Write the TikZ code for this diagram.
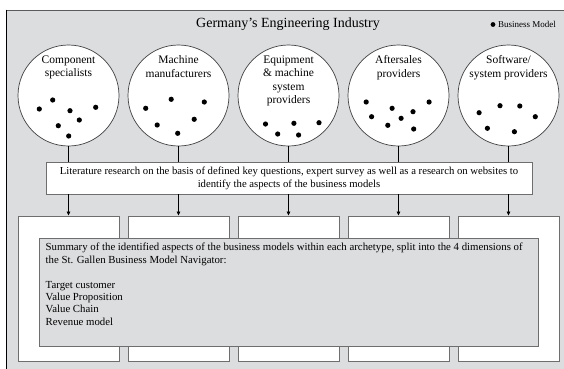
\documentclass[tikz,border=0pt]{standalone}
\usepackage{fontspec}
\setmainfont{Liberation Serif}
\usetikzlibrary{arrows.meta}
\definecolor{bggray}{RGB}{220,221,223}
\definecolor{edgegray}{RGB}{110,110,110}
\definecolor{topgray}{RGB}{90,90,90}
\begin{document}
\begin{tikzpicture}[x=1pt,y=-1pt,
  archcircle/.style={circle, draw=black!75, line width=0.7pt, fill=white, minimum size=101pt, inner sep=0pt},
  archlabel/.style={anchor=north, align=center, inner sep=0pt, font=\fontsize{11.5}{13.5}\selectfont},
  colbox/.style={rectangle, draw=edgegray, line width=0.9pt, fill=white, minimum width=101pt, minimum height=145pt, inner sep=0pt},
  litbox/.style={rectangle, draw=edgegray, line width=0.9pt, fill=white, minimum width=486pt, minimum height=32pt, inner sep=0pt, align=center, font=\fontsize{10.7}{13}\selectfont},
  sumbox/.style={rectangle, draw=edgegray, line width=0.9pt, fill=bggray, minimum width=499pt, minimum height=108pt, inner sep=0pt},
  sumtext/.style={anchor=north west, align=left, inner sep=0pt, font=\fontsize{10.8}{12.4}\selectfont},
  bmdot/.style={fill=black},
  link/.style={draw=black, line width=0.8pt},
  arr/.style={draw=black, line width=0.8pt, -{Triangle[length=4pt,width=3.6pt]}}
]
\useasboundingbox (0,0) rectangle (564,368);
% background panel
\fill[bggray] (6,10) rectangle (570,375);
\draw[topgray, line width=1.8pt] (6,10.5) -- (570,10.5);
\draw[black, line width=1.4pt] (6.7,9.6) -- (6.7,375);

% title and legend
\node[font=\fontsize{14}{16}\selectfont] (title) at (288,24) {Germany’s Engineering Industry};
\fill[bmdot] (493,24.5) circle (2.4pt) coordinate (legdot);
\node[anchor=west, inner sep=0pt, font=\fontsize{9}{10}\selectfont] (legend) at (498,24.5) {Business Model};

% circles
\node[archcircle] (c1) at (68.5,95.5) {};
\node[archcircle] (c2) at (178.5,95.5) {};
\node[archcircle] (c3) at (288.5,95.5) {};
\node[archcircle] (c4) at (398.5,95.5) {};
\node[archcircle] (c5) at (508.5,95.5) {};
\node[archlabel] (t1) at (68.5,55.5) {Component\\specialists};
\node[archlabel] (t2) at (178.5,55.5) {Machine\\manufacturers};
\node[archlabel] (t3) at (288.5,55.5) {Equipment\\\& machine\\system\\providers};
\node[archlabel] (t4) at (398.5,55.5) {Aftersales\\providers};
\node[archlabel] (t5) at (508.5,55.5) {Software/\\system providers};

% business model dots
\foreach \p in {(52.7,100),(39.3,109),(70,110.7),(95.7,107.3),(79.3,120),(58.3,125.7),(68.7,136),
  (145.7,108.3),(171.2,99.3),(204.3,102),(157.2,125),(194.2,119.3),(177.7,133.3),
  (265.5,124),(293.9,123.3),(319,122.7),(277.7,134),(298.6,135),
  (366.2,102),(392.1,108.3),(429.1,102),(371.6,116.7),(401.1,118.3),(413,111.7),(387.8,125.3),(413.7,129),
  (479.1,112.7),(500,105.7),(519.8,106),(535.3,116.7),(487.4,128.3),(514.4,131.7)}
  \fill[bmdot] \p circle (2.6pt);

% literature box
\node[litbox] (lit) at (289,178) {Literature research on the basis of defined key questions, expert survey as well as a research on websites to\\identify the aspects of the business models};

% column boxes
\node[colbox] (k1) at (68.5,288.5) {};
\node[colbox] (k2) at (178.5,288.5) {};
\node[colbox] (k3) at (288.5,288.5) {};
\node[colbox] (k4) at (398.5,288.5) {};
\node[colbox] (k5) at (508.5,288.5) {};

% summary box
\node[sumbox] (sum) at (288.5,292) {};
\node[sumtext] (sumtxt) at (45.5,243) {Summary of the identified aspects of the business models within each archetype, split into the 4 dimensions of\\the St. Gallen Business Model Navigator:\\[12.4pt]Target customer\\Value Proposition\\Value Chain\\Revenue model};

% connectors
\foreach \i in {1,...,5} {
  \draw[link] (c\i.south) -- (c\i.south |- lit.north);
  \draw[arr] (k\i.north |- lit.south) -- (k\i.north);
}
\end{tikzpicture}
\end{document}
